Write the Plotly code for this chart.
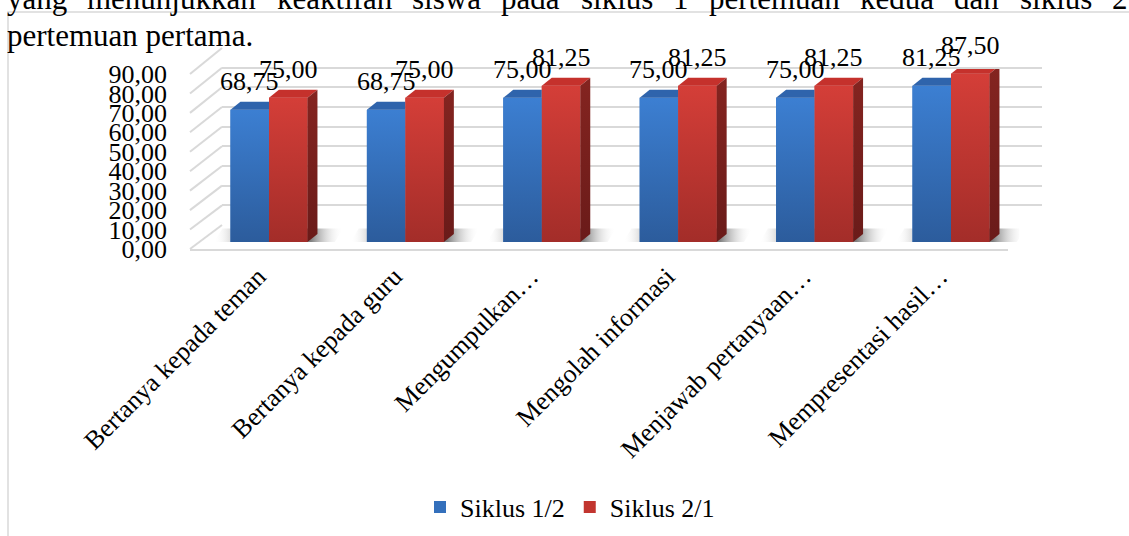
import plotly.graph_objects as go

# ---------------- data ----------------
categories = ["Bertanya kepada teman", "Bertanya kepada guru", "Mengumpulkan…",
              "Mengolah informasi", "Menjawab pertanyaan…", "Mempresentasi hasil…"]
siklus_1_2 = [68.75, 68.75, 75.00, 75.00, 75.00, 81.25]
siklus_2_1 = [75.00, 75.00, 81.25, 81.25, 81.25, 87.50]
series_names = ["Siklus 1/2", "Siklus 2/1"]
y_ticks = [0, 10, 20, 30, 40, 50, 60, 70, 80, 90]
y_max = 90
line1_words = ["yang", "menunjukkan", "keaktifan", "siswa", "pada", "siklus", "1",
               "pertemuan", "kedua", "dan", "siklus", "2"]
line2_text = "pertemuan pertama."

# ---------------- geometry / style ----------------
W, H = 1129, 536
FONT = "Liberation Serif, Times New Roman, serif"
GRID = "#D9D9D9"


def fx(p):
    return p / W


def fy(p):
    return (H - p) / H


# back wall, front plane, bar plane (pixel boxes)
BACK_X = (222, 1042); BACK_Y = (225, 48)
FRONT_X = (190, 1008); FRONT_Y = (249, 74)
BAR_X = (200.8, 1019.2); BAR_Y = (242, 69)

BAR_W = 0.2823   # bar width in category units
DX = 0.073       # 3D depth, x (category units)
DY = 4.2         # 3D depth, y (value units)

BLUE = "#3470BC"; BLUE_TOP = "#2F64AC"
BLUE_GRAD = [[0, "#2C5C9C"], [1, "#3C7FD2"]]
RED = "#C2352F"; RED_TOP = "#C5312C"
RED_GRAD = [[0, "#A32D29"], [1, "#D43E38"]]
RED_SIDE_GRAD = [[0, "#6A1B19"], [1, "#842420"]]
SHADOW_GRAD = [[0, "rgba(255,255,255,0)"], [0.2, "rgba(140,140,140,0.7)"],
               [0.75, "rgba(120,120,120,0.95)"], [1, "rgba(255,255,255,0)"]]

idx = list(range(len(categories)))
n_cat = len(categories)


def fmt(v):
    return f"{v:.2f}".replace(".", ",")


fig = go.Figure()

# dummy traces so the wall/front subplots exist
fig.add_trace(go.Scatter(x=[None], y=[None], xaxis="x", yaxis="y", showlegend=False, hoverinfo="skip"))
fig.add_trace(go.Scatter(x=[None], y=[None], xaxis="x2", yaxis="y2", showlegend=False, hoverinfo="skip"))


def poly(points, xa, ya, fillcolor=None, grad=None, gtype="vertical"):
    xs = [p[0] for p in points] + [points[0][0]]
    ys = [p[1] for p in points] + [points[0][1]]
    kw = dict(x=xs, y=ys, mode="lines", fill="toself", line=dict(width=0),
              xaxis=xa, yaxis=ya, showlegend=False, hoverinfo="skip")
    if grad is not None:
        kw["fillgradient"] = dict(type=gtype, colorscale=grad)
        kw["fillcolor"] = grad[-1][1]
    else:
        kw["fillcolor"] = fillcolor
    return go.Scatter(**kw)


# floor shadows (own subplot, drawn beneath the bars)
for i in idx:
    fig.add_trace(poly([(i - BAR_W - 0.12, 0), (i + BAR_W + 0.2, 0),
                        (i + BAR_W + 0.26, 7), (i - BAR_W - 0.06, 7)],
                       "x3", "y3", grad=SHADOW_GRAD, gtype="horizontal"))

# bars (front faces)
fig.add_trace(go.Bar(x=idx, y=siklus_1_2, name=series_names[0], width=BAR_W, offset=-BAR_W,
                     marker=dict(color=BLUE, line=dict(width=0)), xaxis="x4", yaxis="y4"))
fig.add_trace(go.Bar(x=idx, y=siklus_2_1, name=series_names[1], width=BAR_W, offset=0,
                     marker=dict(color=RED, line=dict(width=0)), xaxis="x4", yaxis="y4"))

# shading of front faces, top and side faces
for i, v in zip(idx, siklus_1_2):
    fig.add_trace(poly([(i - BAR_W, 0), (i, 0), (i, v), (i - BAR_W, v)], "x4", "y4", grad=BLUE_GRAD))
    fig.add_trace(poly([(i - BAR_W, v), (i, v), (i, v + DY), (i - BAR_W + DX, v + DY)],
                       "x4", "y4", fillcolor=BLUE_TOP))
for i, v in zip(idx, siklus_2_1):
    fig.add_trace(poly([(i, 0), (i + BAR_W, 0), (i + BAR_W, v), (i, v)], "x4", "y4", grad=RED_GRAD))
    fig.add_trace(poly([(i, v), (i + BAR_W, v), (i + BAR_W + DX, v + DY), (i + DX, v + DY)],
                       "x4", "y4", fillcolor=RED_TOP))
    fig.add_trace(poly([(i + BAR_W, 0), (i + BAR_W + DX, DY), (i + BAR_W + DX, v + DY), (i + BAR_W, v)],
                       "x4", "y4", grad=RED_SIDE_GRAD))

annotations = []
# data labels
for i, v in zip(idx, siklus_1_2):
    annotations.append(dict(x=i - BAR_W / 2, y=v, xref="x4", yref="y4", text=fmt(v), showarrow=False,
                            yshift=28, yanchor="middle", font=dict(family=FONT, size=26, color="black")))
for i, v in zip(idx, siklus_2_1):
    annotations.append(dict(x=i + BAR_W / 2, y=v, xref="x4", yref="y4", text=fmt(v), showarrow=False,
                            yshift=28, yanchor="middle", font=dict(family=FONT, size=26, color="black")))

# surrounding document text (justified first line, cut at the top)
word_x = [5, 85, 275, 410, 499, 579, 671, 707, 858, 952, 1018, 1110]
for wx, w in zip(word_x, line1_words):
    annotations.append(dict(x=fx(wx), y=fy(-1), xref="paper", yref="paper", text=w, showarrow=False,
                            xanchor="left", yanchor="middle", font=dict(family=FONT, size=31, color="black")))
annotations.append(dict(x=fx(5), y=fy(35), xref="paper", yref="paper", text=line2_text, showarrow=False,
                        xanchor="left", yanchor="middle", font=dict(family=FONT, size=31, color="black")))

# shapes: chart border and left-wall diagonals
shapes = [dict(type="rect", xref="paper", yref="paper", x0=fx(8), x1=1.02, y0=-0.02, y1=fy(12),
               line=dict(color=GRID, width=1.5), layer="below")]
for t in y_ticks:
    fy_front = fy(FRONT_Y[0]) + t / y_max * (fy(FRONT_Y[1]) - fy(FRONT_Y[0]))
    fy_back = fy(BACK_Y[0]) + t / y_max * (fy(BACK_Y[1]) - fy(BACK_Y[0]))
    shapes.append(dict(type="line", xref="paper", yref="paper", x0=fx(FRONT_X[0]), y0=fy_front,
                       x1=fx(BACK_X[0]), y1=fy_back, line=dict(color=GRID, width=2), layer="below"))

hidden = dict(automargin=False, visible=False)
fig.update_layout(
    width=W, height=H, margin=dict(l=0, r=0, t=0, b=0, autoexpand=False),
    paper_bgcolor="white", plot_bgcolor="rgba(0,0,0,0)",
    separators=",.",
    barmode="overlay",
    font=dict(family=FONT, size=26, color="black"),
    xaxis=dict(domain=[fx(BACK_X[0]), fx(BACK_X[1])], range=[0, 1], anchor="y", automargin=False,
               showgrid=False, showticklabels=False, zeroline=False, showline=False),
    yaxis=dict(domain=[fy(BACK_Y[0]), fy(BACK_Y[1])], range=[0, y_max], anchor="x", automargin=False,
               tickvals=y_ticks, showgrid=True, gridcolor=GRID, gridwidth=2,
               showticklabels=False, zeroline=False, showline=False),
    xaxis2=dict(domain=[fx(FRONT_X[0]), fx(FRONT_X[1])], range=[-0.5, n_cat - 0.5], anchor="y2",
                automargin=False,
                tickvals=idx, ticktext=categories, tickangle=-45, showgrid=False, zeroline=False,
                showline=True, linecolor=GRID, linewidth=2, ticks="",
                tickfont=dict(family=FONT, size=26, color="black")),
    yaxis2=dict(domain=[fy(FRONT_Y[0]), fy(FRONT_Y[1])], range=[0, y_max], anchor="x2", automargin=False,
                tickvals=y_ticks, tickformat=".2f", showgrid=False, zeroline=False, showline=False,
                ticks="", ticklabelstandoff=22,
                tickfont=dict(family=FONT, size=26, color="black")),
    xaxis3=dict(domain=[fx(BAR_X[0]), fx(BAR_X[1])], range=[-0.5, n_cat - 0.5], anchor="y3", **hidden),
    yaxis3=dict(domain=[fy(BAR_Y[0]), fy(BAR_Y[1])], range=[0, y_max], anchor="x3", **hidden),
    xaxis4=dict(domain=[fx(BAR_X[0]), fx(BAR_X[1])], range=[-0.5, n_cat - 0.5], anchor="y4", **hidden),
    yaxis4=dict(domain=[fy(BAR_Y[0]), fy(BAR_Y[1])], range=[0, y_max], anchor="x4", **hidden),
    legend=dict(orientation="h", x=fx(570), xanchor="center", y=fy(507), yanchor="middle",
                font=dict(family=FONT, size=26, color="black"), bgcolor="rgba(0,0,0,0)"),
    annotations=annotations,
    shapes=shapes,
)

fig.write_html("out.html")
